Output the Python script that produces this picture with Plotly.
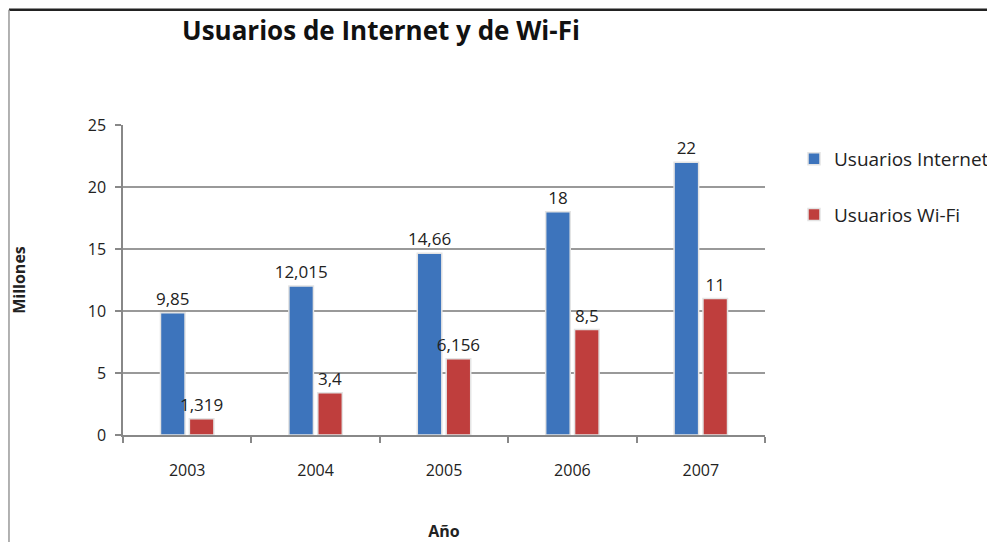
import plotly.graph_objects as go

# data
years = ['2003', '2004', '2005', '2006', '2007']
internet_users = [9.85, 12.015, 14.66, 18, 22]
wifi_users = [1.319, 3.4, 6.156, 8.5, 11]
internet_labels = ['9,85', '12,015', '14,66', '18', '22']
wifi_labels = ['1,319', '3,4', '6,156', '8,5', '11']

font = 'Open Sans, Noto Sans, sans-serif'

fig = go.Figure(data=[
    go.Bar(name='Usuarios Internet', x=years, y=internet_users,
           text=internet_labels, textposition='outside', cliponaxis=False,
           marker=dict(color='#3D74BC', line=dict(color='#e4e4e4', width=1.5)),
           legendgroup='a'),
    go.Bar(name='Usuarios Wi-Fi', x=years, y=wifi_users,
           text=wifi_labels, textposition='outside', cliponaxis=False,
           marker=dict(color='#BF3E3D', line=dict(color='#e4e4e4', width=1.5)),
           legendgroup='b'),
])

fig.update_traces(textfont=dict(size=17, color='#222'), constraintext='none')

# the page body adds an 8px offset, so margins are shifted to compensate
fig.update_layout(
    width=995, height=542,
    paper_bgcolor='white', plot_bgcolor='white',
    font=dict(family=font, size=16, color='#222'),
    margin=dict(l=115, r=238, t=117, b=115),
    barmode='group', bargap=0.55, bargroupgap=0.15,
    uniformtext=dict(minsize=17, mode='show'),
    title=dict(text='<b>Usuarios de Internet y de Wi-Fi</b>',
               font=dict(size=26, color='#111'),
               x=174 / 995, xref='container', xanchor='left',
               y=1 - 23 / 542, yref='container', yanchor='middle'),
    legend=dict(x=786 / 995, xref='container', xanchor='left',
                y=1 - 132 / 542, yref='container', yanchor='top',
                traceorder='grouped', tracegroupgap=28,
                font=dict(size=19, color='#222')),
    xaxis=dict(title=dict(text='<b>Año</b>', standoff=46, font=dict(size=16)),
               automargin=False,
               showline=True, linecolor='#888', linewidth=1.5,
               ticks='outside', tickson='boundaries', ticklen=6,
               tickcolor='#888', tickwidth=1.5, ticklabelstandoff=20),
    yaxis=dict(title=dict(text='<b>Millones</b>', standoff=58, font=dict(size=16)),
               automargin=False,
               range=[0, 25], dtick=5,
               showline=True, linecolor='#888', linewidth=1.5,
               ticks='outside', ticklen=6, tickcolor='#888', tickwidth=1.5,
               ticklabelstandoff=6,
               showgrid=True, gridcolor='#999', gridwidth=1.5,
               zeroline=False),
    shapes=[
        dict(type='line', xref='paper', yref='paper',
             x0=-0.1776, x1=1.5, y0=1.372, y1=1.372,
             line=dict(color='#222', width=2.5)),
        dict(type='line', xref='paper', yref='paper',
             x0=-0.1776, x1=-0.1776, y0=-0.4, y1=1.372,
             line=dict(color='#999', width=1.5)),
    ],
)

fig.write_html('out.html')
